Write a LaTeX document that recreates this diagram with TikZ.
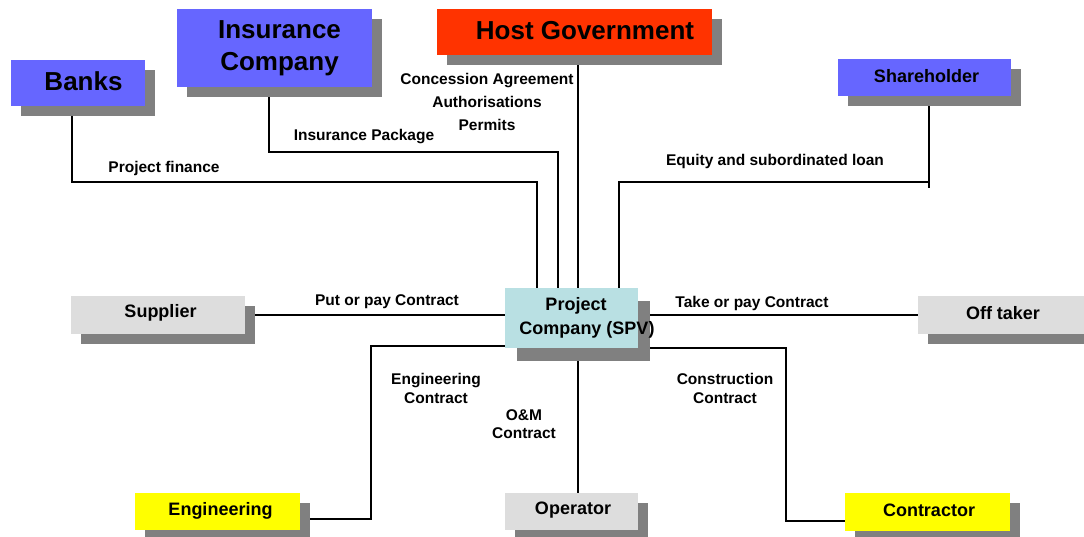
\documentclass[tikz,border=0pt]{standalone}
\usepackage{fontspec}
\setmainfont{Liberation Sans}
\usetikzlibrary{shadows,backgrounds}
\definecolor{bblue}{HTML}{6666FF}
\definecolor{hred}{HTML}{FF3300}
\definecolor{pcyan}{HTML}{B9E0E3}
\definecolor{lgray}{HTML}{DDDDDD}
\definecolor{yell}{HTML}{FFFF00}
\definecolor{shgray}{HTML}{808080}
\begin{document}
\begin{tikzpicture}[x=1pt,y=-1pt,
  box/.style 2 args={draw=none, inner sep=0, minimum width=#1, minimum height=#2,
    drop shadow={shadow xshift=10pt, shadow yshift=-10pt, fill=shgray, opacity=1}},
  big/.style={font=\fontsize{26}{32}\selectfont\bfseries, align=center, inner sep=0},
  mid/.style={font=\fontsize{18}{24}\selectfont\bfseries, align=center, inner sep=0},
  lab/.style={font=\fontsize{15.5}{18.5}\selectfont\bfseries, align=center, inner sep=0},
  conn/.style={line width=2pt},
  thinconn/.style={line width=1.3pt}
]
\clip (0,0) rectangle (1084,537);

% boxes
\node[box={134}{46}, fill=bblue, label={[big,xshift=5.5,yshift=1.5]center:Banks}] (banks) at (78,83) {};
\node[box={195}{78}, fill=bblue, label={[big,xshift=5,yshift=0]center:Insurance\\Company}] (ins) at (274.5,48) {};
\node[box={275}{46}, fill=hred, label={[big,xshift=10.5,yshift=1]center:Host Government}] (hg) at (574.5,32) {};
\node[box={173}{37}, fill=bblue, label={[mid,xshift=2,yshift=1]center:Shareholder}] (sh) at (924.5,77.5) {};
\node[box={174}{37}, fill=lgray, label={[mid,xshift=2.5,yshift=2]center:Supplier}] (sup) at (158,315) {};
\node[draw=none, inner sep=0, minimum width=133, minimum height=60, fill=pcyan,
  drop shadow={shadow xshift=12pt, shadow yshift=-13pt, fill=shgray, opacity=1},
  label={[mid,xshift=15.5,yshift=0]center:\hspace*{-22pt}Project\\Company (SPV)}] (spv) at (571.5,318) {};
\node[box={174}{37}, fill=lgray, label={[mid,xshift=-2,yshift=2]center:Off taker}] (off) at (1005,315) {};
\node[box={165}{37}, fill=yell, label={[mid,xshift=3,yshift=1]center:Engineering}] (eng) at (217.5,511.5) {};
\node[box={133}{37}, fill=lgray, label={[mid,xshift=1.5,yshift=1]center:Operator}] (op) at (571.5,511.5) {};
\node[box={165}{38}, fill=yell, label={[mid,xshift=1.5,yshift=1.5]center:Contractor}] (con) at (927.5,512) {};

% connector labels
\node[lab] (lpf) at (164,168) {Project finance};
\node[lab] (lip) at (364,137) {Insurance Package};
\node[lab, font=\fontsize{15.5}{23}\selectfont\bfseries] (lca) at (487,102) {Concession Agreement\\Authorisations\\Permits};
\node[lab] (leq) at (775,161) {Equity and subordinated loan};
\node[lab] (lput) at (387,301.5) {Put or pay Contract};
\node[lab] (ltake) at (752,303.5) {Take or pay Contract};
\node[lab] (lec) at (436,388.5) {Engineering\\Contract};
\node[lab] (lom) at (524,424) {O\&M\\Contract};
\node[lab] (lcc) at (725,388.5) {Construction\\Contract};

% connectors
\begin{pgfonlayer}{background}
\draw[conn] ([xshift=-6]banks.south) -- ++(0,76) -| ([xshift=-34.5]spv.north);
\draw[conn] ([xshift=-5.5]ins.south) -- ++(0,65) -| ([xshift=-13.5]spv.north);
\draw[conn] ([xshift=3.5]hg.south) -- ([xshift=6.5]spv.north);
\draw[conn] ([xshift=4.5]sh.south) -- ++(0,92) ++(0,-6) -| ([xshift=47.5]spv.north);
\draw[conn] (sup.east) -- ([yshift=3]spv.west);
\draw[conn] ([yshift=3]spv.east) -- (off.west);
\draw[conn] ([yshift=2]spv.south west) -- ++(-134,0) |- ([xshift=10,yshift=-7.5]eng.east);
\draw[thinconn] ([xshift=6.5]spv.south) -- ([xshift=6.5]op.north);
\draw[conn] (spv.south east) -- ++(148,0) |- ([yshift=-9]con.west);
\end{pgfonlayer}
\end{tikzpicture}
\end{document}
